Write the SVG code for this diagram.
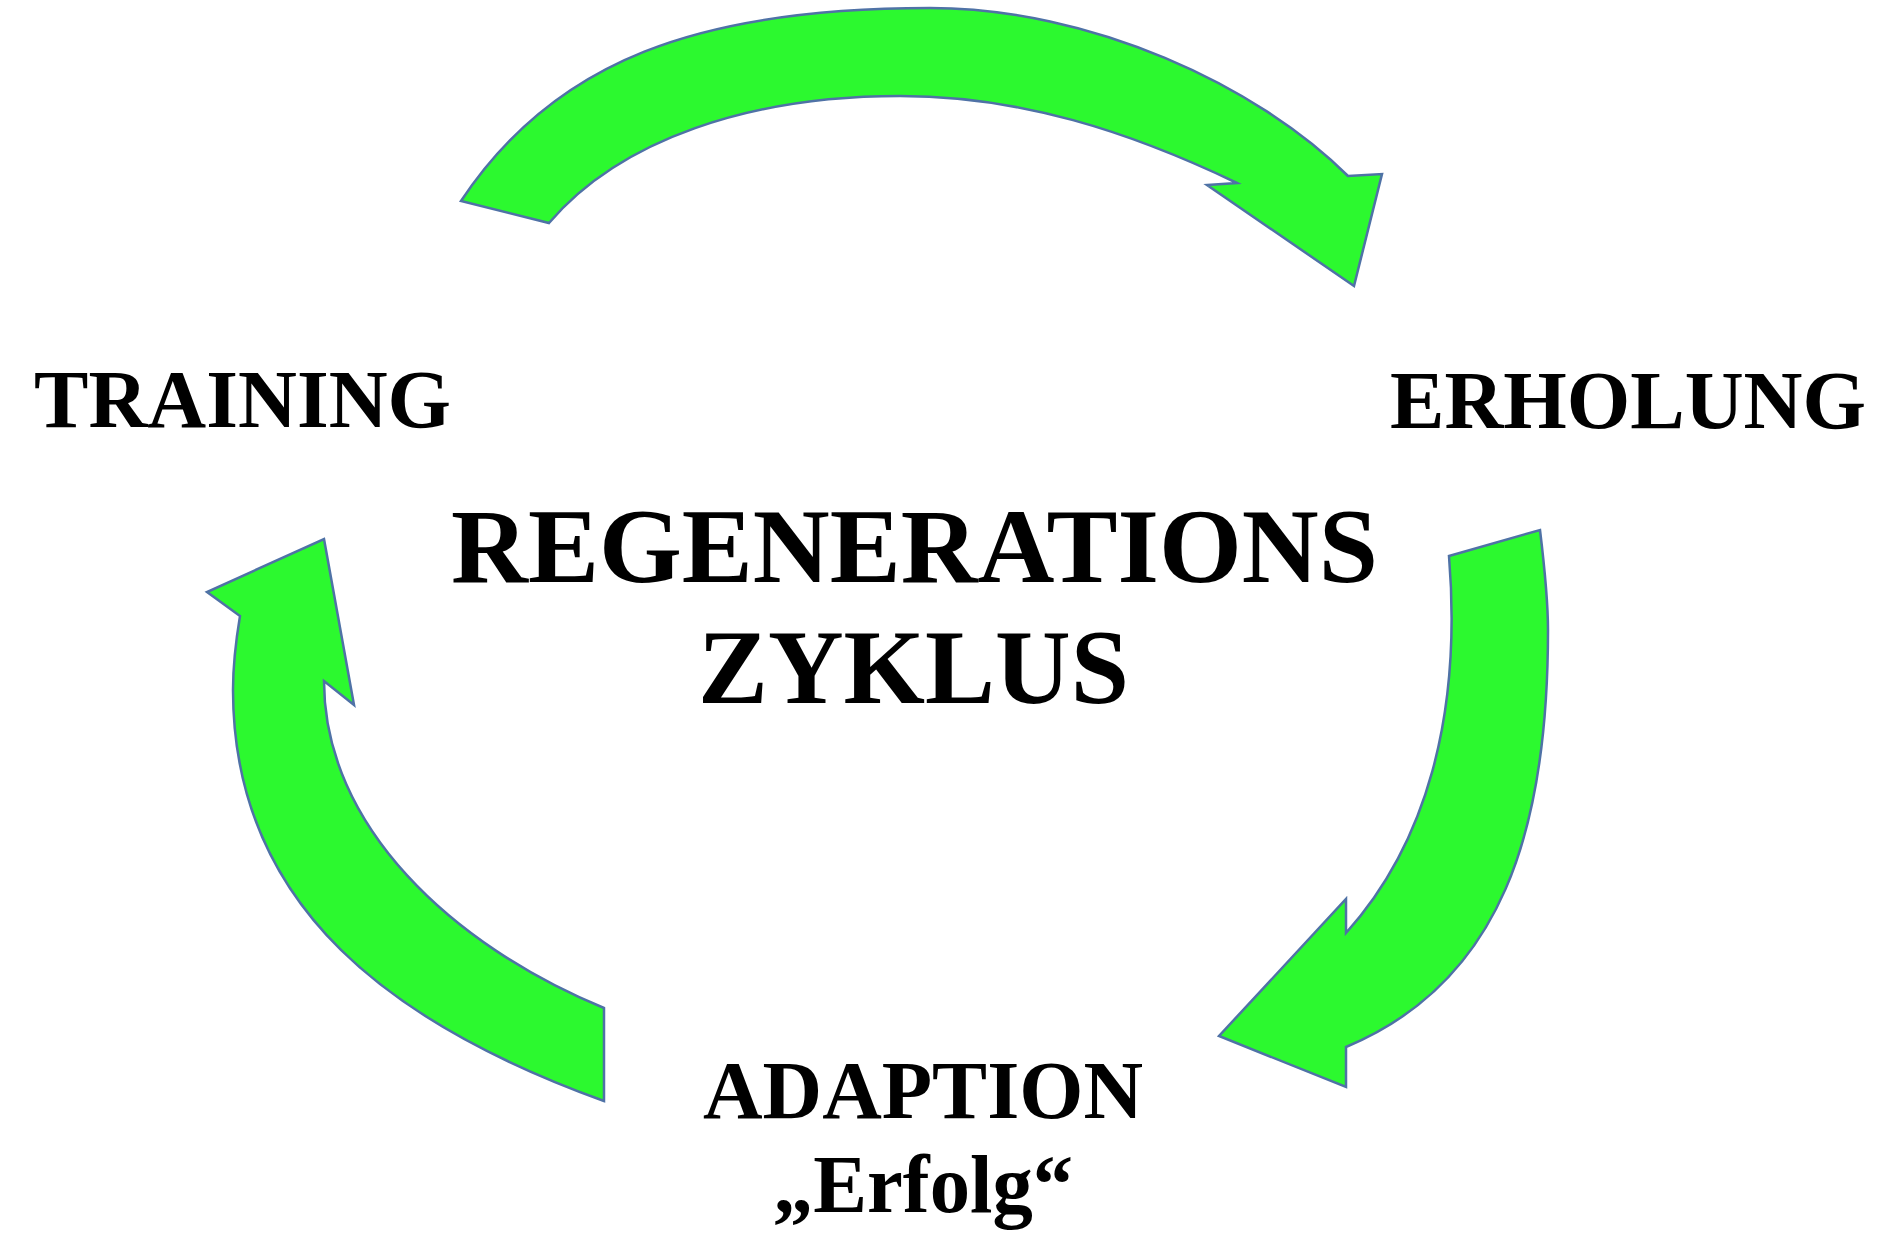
<svg xmlns="http://www.w3.org/2000/svg" width="1900" height="1239" viewBox="0 0 1900 1239">
<style>
.arrow{fill:#2cf92f;stroke:#4f72a6;stroke-width:2.5;stroke-linejoin:miter}
.lbl{font-family:"Liberation Serif","Times New Roman",serif;font-weight:bold;fill:#000;text-anchor:middle}
</style>
<rect width="1900" height="1239" fill="#fff"/>
<g id="connectors">
<path id="arrow-training-erholung" class="arrow" d="M461,201 C554.5,60 700,8 930,8 C1090,8 1257,85 1348,176 L1382,174 L1354,286 L1207,185 L1237,183 C1129,131.4 1020,96 900,96 C750,96 620.5,139.4 549,223 Z"/>
<path id="arrow-erholung-adaption" class="arrow" d="M1449,556 L1540,530 C1544,563 1548,597 1548,630 C1548,830 1502,982 1346,1047 L1346,1087 L1219,1036 L1346,899 L1346,933 C1426,844 1462,716 1449,556 Z"/>
<path id="arrow-adaption-training" class="arrow" d="M324,539 L354,705 L324,681 C324,826 452.2,945.3 604,1008 L604,1101 C397.2,1026.2 233,910 233,690 C233,670 236,640 240,616 L207,592 Z"/>
</g>
<g id="node-training"><text class="lbl" x="242.5" y="427" font-size="83" textLength="417" lengthAdjust="spacingAndGlyphs">TRAINING</text></g>
<g id="node-erholung"><text class="lbl" x="1628" y="428" font-size="83" textLength="476" lengthAdjust="spacingAndGlyphs">ERHOLUNG</text></g>
<g id="node-center">
<text class="lbl" x="914.5" y="582" font-size="106" textLength="927" lengthAdjust="spacingAndGlyphs">REGENERATIONS</text>
<text class="lbl" x="913.5" y="703" font-size="106" textLength="431" lengthAdjust="spacingAndGlyphs">ZYKLUS</text>
</g>
<g id="node-adaption">
<text class="lbl" x="923" y="1118" font-size="83" textLength="440" lengthAdjust="spacingAndGlyphs">ADAPTION</text>
<text class="lbl" x="923" y="1212" font-size="82" textLength="300" lengthAdjust="spacingAndGlyphs">„Erfolg“</text>
</g>
</svg>
